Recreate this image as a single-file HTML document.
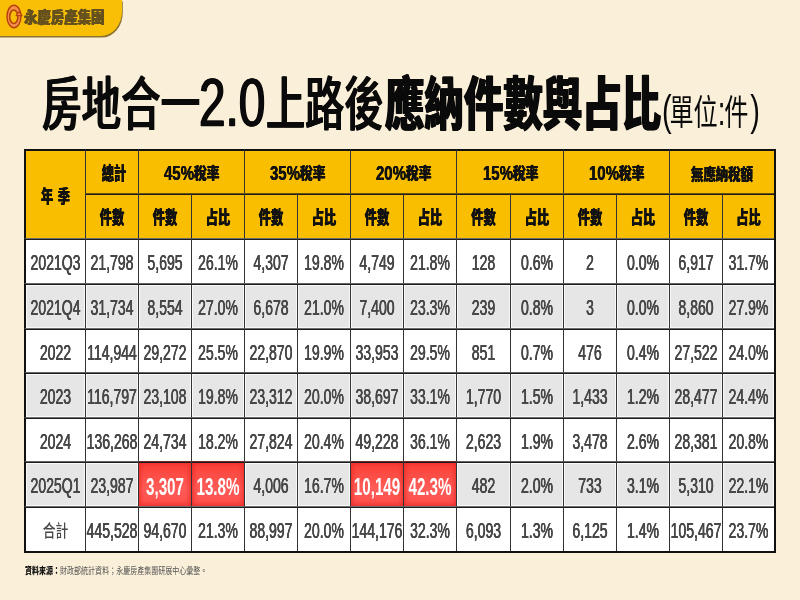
<!DOCTYPE html>
<html lang="zh-Hant">
<head>
<meta charset="utf-8">
<title>房地合一2.0上路後應納件數與占比</title>
<style>
html,body{margin:0;padding:0}
body{width:800px;height:600px;overflow:hidden;position:relative;background:#faefd9;font-family:"Liberation Sans","Noto Sans CJK TC",sans-serif;color:#444}
.badge{position:absolute;left:-3px;top:0;width:125px;height:36.4px;background:#f9bf06;border-radius:0 0 21px 0/0 0 25px 0;box-shadow:.8px 1.6px 0 #8d7430}
.badge svg{position:absolute;left:3px;top:0;width:30px;height:34px}
.badge .brand{position:absolute;left:27px;top:5.8px;font:900 16px/24px "Liberation Sans","Noto Sans CJK TC",sans-serif;color:#65511e;white-space:nowrap;transform:scaleX(.838);transform-origin:0 50%;text-shadow:.5px 0 0 #65511e,-.5px 0 0 #65511e}
.title{position:absolute;left:0;top:0;margin:0;font-weight:normal}
.title span{position:absolute;white-space:nowrap;transform-origin:0 0;color:#0a0a0a;line-height:1}
.t1{left:42.3px;top:75.8px;font:500 58px/1 "Liberation Sans","Noto Sans CJK TC",sans-serif;transform:scaleX(.682)}
.t2{left:199.3px;top:69.2px;font:400 68.7px/1 "Liberation Sans",sans-serif;transform:scaleX(.695);-webkit-text-stroke:.3px #0a0a0a;text-shadow:1px 0 0 #0a0a0a,-1px 0 0 #0a0a0a}
.t3{left:265.5px;top:75.8px;font:500 58px/1 "Liberation Sans","Noto Sans CJK TC",sans-serif;transform:scaleX(.675)}
.t4{left:385px;top:75.8px;font:900 58px/1 "Liberation Sans","Noto Sans CJK TC",sans-serif;transform:scaleX(.68)}
.t1,.t3{-webkit-text-stroke:.1px #0a0a0a;text-shadow:1px 0 0 #0a0a0a,-1px 0 0 #0a0a0a}
.t4{-webkit-text-stroke:.2px #0a0a0a;text-shadow:1px 0 0 #0a0a0a,-1px 0 0 #0a0a0a}
.t5{left:662.2px;top:90px;font:400 35px/1 "Liberation Sans","Noto Sans CJK TC",sans-serif;transform:scaleX(.69)}
.title .t5 i{position:static;font-style:normal;font-size:42px}
.title .t5 .p1{margin-right:-3.3px}
.title .t5 .c{font-size:40px;margin-right:-1.7px}
.title .t5 .p2{margin-left:2.6px}
table.grid{position:absolute;left:24px;top:149px;width:752px;border-collapse:separate;border-spacing:0;table-layout:fixed;border-bottom:2px solid #111;border-right:2px solid #111}
.grid th,.grid td{padding:0;margin:0;border-top:1px solid rgba(20,20,20,.62);box-shadow:inset 0 1px 0 #1c1c1c;border-left:1px solid #333;text-align:center;vertical-align:middle;overflow:visible;white-space:nowrap;box-sizing:border-box}
.grid .c0{border-left:2px solid #111}
.grid thead tr:first-child th{border-top:2px solid #111;box-shadow:none}
.grid th{background:#f9be00;font-weight:normal}
.grid tr.w td{background:#fff}
.grid tr.g td{background:#e6e6e6;box-shadow:inset 0 1px 0 #1c1c1c,inset 1px 2px 0 rgba(255,255,255,.75),inset -1px -1px 0 rgba(255,255,255,.75)}
.h{display:block;margin:0 -40px;text-align:center;font:900 17.7px/20px "Liberation Sans","Noto Sans CJK TC",sans-serif;color:#111;transform:scaleX(.69);position:relative;top:1.8px;text-shadow:.3px 0 0 #111,-.3px 0 0 #111}
.h.hy{top:2.5px;word-spacing:1.5px}
.h.hg{transform:none;left:.5px;top:2px;text-shadow:none}
.hg .n,.hg .z{text-shadow:.35px 0 0 #111,-.35px 0 0 #111}
.hg .n{display:inline-block;font:700 20.7px/20px "Liberation Sans",sans-serif;transform:scaleX(.724);transform-origin:0 50%;margin-right:-11.4px}
.hg .z{display:inline-block;font:900 16px/20px "Liberation Sans","Noto Sans CJK TC",sans-serif;transform:scaleX(.795);transform-origin:0 50%;margin-right:-6.6px;position:relative;top:-1.5px}
.h.hw{font-size:16.4px;transform:scaleX(.755);top:2px}
.d{display:block;margin:0 -40px;text-align:center;font:400 21.5px/22px "Liberation Sans",sans-serif;color:#484848;transform:scaleX(.653);position:relative;top:2.2px;-webkit-text-stroke:.2px #484848;text-shadow:.28px 0 0 #484848,-.28px 0 0 #484848}
.d.zh{font:500 17.3px/22px "Liberation Sans","Noto Sans CJK TC",sans-serif;transform:scaleX(.74);top:2.2px;text-shadow:none;-webkit-text-stroke:0}
.grid tr.g td.hot{background:linear-gradient(#f83e34,#ff5c58 60%,#fc4e4a);box-shadow:inset 0 1px 0 #1c1c1c,inset 0 0 5px 1px #ea2a26}
.hot .d{color:#fff;-webkit-text-stroke:0;text-shadow:none;font-weight:700;font-size:23.2px;transform:scaleX(.655);top:3.2px}
.src{position:absolute;left:24.5px;top:565px;margin:0;font:400 9.5px/12px "Liberation Sans","Noto Sans CJK TC",sans-serif;color:#555;white-space:nowrap;transform:scaleX(.738);transform-origin:0 50%}
.src b{font-weight:900;color:#111}
</style>
</head>
<body>
<div class="badge">
<svg viewBox="0 0 30 34"><ellipse cx="13.95" cy="16.45" rx="6.95" ry="11.25" fill="#f4924a" stroke="#b8430f" stroke-width="1.5"/><ellipse cx="13.8" cy="16.75" rx="4.1" ry="6.75" fill="#f9bf06" stroke="#b8430f" stroke-width="1.6"/><path d="M16.1 15.6 L19.1 11.8 L22 15.6 Z" fill="#f4924a" stroke="#b8430f" stroke-width="1.1" stroke-linejoin="round"/></svg>
<span class="brand">永慶房產集團</span>
</div>
<h1 class="title"><span class="t1">房地合一</span><span class="t2">2.0</span><span class="t3">上路後</span><span class="t4">應納件數與占比</span><span class="t5"><i class="p1">(</i>單位<i class="c">:</i>件<i class="p2">)</i></span></h1>
<table class="grid">
<colgroup><col style="width:61px"><col style="width:53px"><col style="width:53px"><col style="width:53px"><col style="width:53px"><col style="width:53px"><col style="width:53px"><col style="width:53px"><col style="width:54px"><col style="width:53px"><col style="width:53px"><col style="width:53px"><col style="width:53px"><col style="width:52px"></colgroup>
<thead>
<tr style="height:44px"><th rowspan="2" class="c0"><span class="h hy">年 季</span></th><th><span class="h" style="left:2px">總計</span></th><th colspan="2"><span class="h hg"><b class="n">45%</b><span class="z">稅率</span></span></th><th colspan="2"><span class="h hg"><b class="n">35%</b><span class="z">稅率</span></span></th><th colspan="2"><span class="h hg"><b class="n">20%</b><span class="z">稅率</span></span></th><th colspan="2"><span class="h hg"><b class="n">15%</b><span class="z">稅率</span></span></th><th colspan="2"><span class="h hg"><b class="n">10%</b><span class="z">稅率</span></span></th><th colspan="2"><span class="h hw">無應納稅額</span></th></tr>
<tr style="height:45px"><th><span class="h">件數</span></th><th><span class="h">件數</span></th><th><span class="h">占比</span></th><th><span class="h">件數</span></th><th><span class="h">占比</span></th><th><span class="h">件數</span></th><th><span class="h">占比</span></th><th><span class="h">件數</span></th><th><span class="h">占比</span></th><th><span class="h">件數</span></th><th><span class="h">占比</span></th><th><span class="h">件數</span></th><th><span class="h">占比</span></th></tr>
</thead>
<tbody>
<tr class="w" style="height:45px"><td class="c0"><span class="d">2021Q3</span></td><td><span class="d">21,798</span></td><td><span class="d">5,695</span></td><td><span class="d">26.1%</span></td><td><span class="d">4,307</span></td><td><span class="d">19.8%</span></td><td><span class="d">4,749</span></td><td><span class="d">21.8%</span></td><td><span class="d">128</span></td><td><span class="d">0.6%</span></td><td><span class="d">2</span></td><td><span class="d">0.0%</span></td><td><span class="d">6,917</span></td><td><span class="d">31.7%</span></td></tr>
<tr class="g" style="height:45px"><td class="c0"><span class="d">2021Q4</span></td><td><span class="d">31,734</span></td><td><span class="d">8,554</span></td><td><span class="d">27.0%</span></td><td><span class="d">6,678</span></td><td><span class="d">21.0%</span></td><td><span class="d">7,400</span></td><td><span class="d">23.3%</span></td><td><span class="d">239</span></td><td><span class="d">0.8%</span></td><td><span class="d">3</span></td><td><span class="d">0.0%</span></td><td><span class="d">8,860</span></td><td><span class="d">27.9%</span></td></tr>
<tr class="w" style="height:44px"><td class="c0"><span class="d">2022</span></td><td><span class="d">114,944</span></td><td><span class="d">29,272</span></td><td><span class="d">25.5%</span></td><td><span class="d">22,870</span></td><td><span class="d">19.9%</span></td><td><span class="d">33,953</span></td><td><span class="d">29.5%</span></td><td><span class="d">851</span></td><td><span class="d">0.7%</span></td><td><span class="d">476</span></td><td><span class="d">0.4%</span></td><td><span class="d">27,522</span></td><td><span class="d">24.0%</span></td></tr>
<tr class="g" style="height:45px"><td class="c0"><span class="d">2023</span></td><td><span class="d">116,797</span></td><td><span class="d">23,108</span></td><td><span class="d">19.8%</span></td><td><span class="d">23,312</span></td><td><span class="d">20.0%</span></td><td><span class="d">38,697</span></td><td><span class="d">33.1%</span></td><td><span class="d">1,770</span></td><td><span class="d">1.5%</span></td><td><span class="d">1,433</span></td><td><span class="d">1.2%</span></td><td><span class="d">28,477</span></td><td><span class="d">24.4%</span></td></tr>
<tr class="w" style="height:44px"><td class="c0"><span class="d">2024</span></td><td><span class="d">136,268</span></td><td><span class="d">24,734</span></td><td><span class="d">18.2%</span></td><td><span class="d">27,824</span></td><td><span class="d">20.4%</span></td><td><span class="d">49,228</span></td><td><span class="d">36.1%</span></td><td><span class="d">2,623</span></td><td><span class="d">1.9%</span></td><td><span class="d">3,478</span></td><td><span class="d">2.6%</span></td><td><span class="d">28,381</span></td><td><span class="d">20.8%</span></td></tr>
<tr class="g" style="height:45px"><td class="c0"><span class="d">2025Q1</span></td><td><span class="d">23,987</span></td><td class="hot"><span class="d">3,307</span></td><td class="hot"><span class="d">13.8%</span></td><td><span class="d">4,006</span></td><td><span class="d">16.7%</span></td><td class="hot"><span class="d">10,149</span></td><td class="hot"><span class="d">42.3%</span></td><td><span class="d">482</span></td><td><span class="d">2.0%</span></td><td><span class="d">733</span></td><td><span class="d">3.1%</span></td><td><span class="d">5,310</span></td><td><span class="d">22.1%</span></td></tr>
<tr class="w" style="height:45px"><td class="c0"><span class="d zh">合計</span></td><td><span class="d">445,528</span></td><td><span class="d">94,670</span></td><td><span class="d">21.3%</span></td><td><span class="d">88,997</span></td><td><span class="d">20.0%</span></td><td><span class="d">144,176</span></td><td><span class="d">32.3%</span></td><td><span class="d">6,093</span></td><td><span class="d">1.3%</span></td><td><span class="d">6,125</span></td><td><span class="d">1.4%</span></td><td><span class="d">105,467</span></td><td><span class="d">23.7%</span></td></tr>
</tbody>
</table>
<p class="src"><b>資料來源：</b>財政部統計資料；永慶房產集團研展中心彙整。</p>
</body>
</html>
